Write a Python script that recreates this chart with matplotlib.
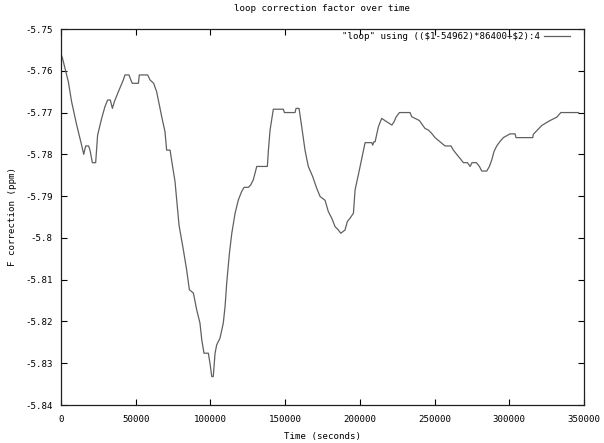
import matplotlib
matplotlib.use("Agg")
import matplotlib.pyplot as plt
from matplotlib.ticker import FixedLocator, FuncFormatter

# time (seconds) and F correction (ppm)
time_s = [0, 1000, 4900, 7100, 10500, 13800, 15200, 16500, 18500, 19400, 21000, 23200,
          24500, 27200, 29400, 31200, 33000, 34400, 35700, 38400, 41700, 42800, 45500,
          46500, 47700, 51800, 52400, 58000, 59600, 62000, 64000, 67400, 69600, 70700,
          73000, 74500, 76300, 79000, 81900, 84100, 85900, 88600, 90800, 93000, 94200,
          95700, 98600, 99700, 100900, 101900, 103100, 104200, 106400, 108600, 109800,
          110900, 112700, 114300, 116500, 118700, 120900, 122500, 125400, 127000, 128700,
          131000, 138100, 138800, 139900, 142100, 148800, 149500, 156600, 157300, 159300,
          161100, 163300, 165500, 168400, 171100, 173400, 176700, 178900, 181200, 183400,
          185600, 187200, 190100, 191600, 193400, 195700, 196800, 199000, 201300, 203500,
          208000, 208600, 209400, 210200, 212400, 214600, 218000, 221400, 222900, 224200,
          226500, 233600, 234700, 239800, 241400, 243600, 245900, 248100, 250300, 253700,
          257000, 261000, 262600, 264800, 267100, 269300, 272000, 273800, 275000, 278000,
          280000, 281600, 284900, 286700, 288300, 289800, 291600, 293400, 296000, 300500,
          303900, 304500, 315700, 316100, 318800, 321700, 326800, 331800, 334500, 346300]
f_corr = [-5.756, -5.757, -5.7626, -5.7674, -5.773, -5.7778, -5.780, -5.778, -5.778, -5.779,
          -5.782, -5.782, -5.7754, -5.7714, -5.7686, -5.767, -5.767, -5.769, -5.7674, -5.765,
          -5.7622, -5.761, -5.761, -5.762, -5.763, -5.763, -5.761, -5.761, -5.7622, -5.763,
          -5.765, -5.771, -5.7746, -5.779, -5.779, -5.7825, -5.7865, -5.797, -5.8029, -5.8077,
          -5.8124, -5.8132, -5.8172, -5.8204, -5.8244, -5.8276, -5.8276, -5.830, -5.8332,
          -5.8332, -5.8276, -5.8256, -5.824, -5.8204, -5.8164, -5.8108, -5.8037, -5.7989,
          -5.7941, -5.7909, -5.7889, -5.7879, -5.7879, -5.7873, -5.7861, -5.7829, -5.7829,
          -5.7790, -5.7742, -5.7692, -5.7692, -5.770, -5.770, -5.769, -5.769, -5.7734, -5.779,
          -5.7829, -5.7853, -5.7881, -5.7901, -5.791, -5.7937, -5.7953, -5.7973, -5.7981,
          -5.7989, -5.7981, -5.7961, -5.7953, -5.7941, -5.7885, -5.7849, -5.7809, -5.7772,
          -5.7772, -5.7778, -5.7770, -5.7770, -5.7734, -5.7714, -5.7722, -5.773, -5.7722,
          -5.7711, -5.770, -5.770, -5.771, -5.7719, -5.7727, -5.7738, -5.7742, -5.775, -5.776,
          -5.777, -5.778, -5.778, -5.779, -5.780, -5.781, -5.782, -5.782, -5.7829, -5.782,
          -5.782, -5.7829, -5.784, -5.784, -5.7829, -5.7813, -5.7793, -5.778, -5.7771, -5.776,
          -5.7751, -5.7751, -5.776, -5.776, -5.7752, -5.7742, -5.7731, -5.772, -5.7711, -5.770,
          -5.770]

x_ticks = [0, 50000, 100000, 150000, 200000, 250000, 300000, 350000]
y_ticks = [-5.84, -5.83, -5.82, -5.81, -5.80, -5.79, -5.78, -5.77, -5.76, -5.75]

title = "loop correction factor over time"
legend_label = '"loop" using ((\\$1-54962)*86400+\\$2):4'
x_label = "Time (seconds)"
y_label = "F correction (ppm)"

plt.rcParams['font.family'] = ['DejaVu Sans Mono']
FS = 6.6

fig = plt.figure(figsize=(6.04, 4.43), dpi=100)
ax = fig.add_axes([61/604, 1-405/443, (584-61)/604, (405-29)/443])

ax.plot(time_s, f_corr, color='#606060', linewidth=0.9, label=legend_label)

ax.set_xlim(0, 350000)
ax.set_ylim(-5.84, -5.75)
ax.xaxis.set_major_locator(FixedLocator(x_ticks))
ax.yaxis.set_major_locator(FixedLocator(y_ticks))
ax.xaxis.set_major_formatter(FuncFormatter(lambda v, p: "%d" % round(v)))
ax.yaxis.set_major_formatter(FuncFormatter(lambda v, p: ("%g" % round(v, 2)).replace("\u2212", "-")))
ax.tick_params(direction='in', length=4, width=0.8, top=True, right=True,
               labelsize=FS, colors='black', pad=6)
ax.tick_params(axis='x', pad=7)
for s in ax.spines.values():
    s.set_linewidth(0.9)
    s.set_color('#202020')

ax.set_title(title, fontsize=FS, pad=13)
ax.set_xlabel(x_label, fontsize=FS, labelpad=6)
ax.set_ylabel(y_label, fontsize=FS, labelpad=6)

leg = ax.legend(loc='upper right', bbox_to_anchor=(1 - 11/523, 1.0), frameon=False,
                fontsize=FS, handlelength=2.8, handletextpad=0.4, borderaxespad=0.0,
                borderpad=0.35, markerfirst=False)

fig.savefig("out.png", dpi=100)
